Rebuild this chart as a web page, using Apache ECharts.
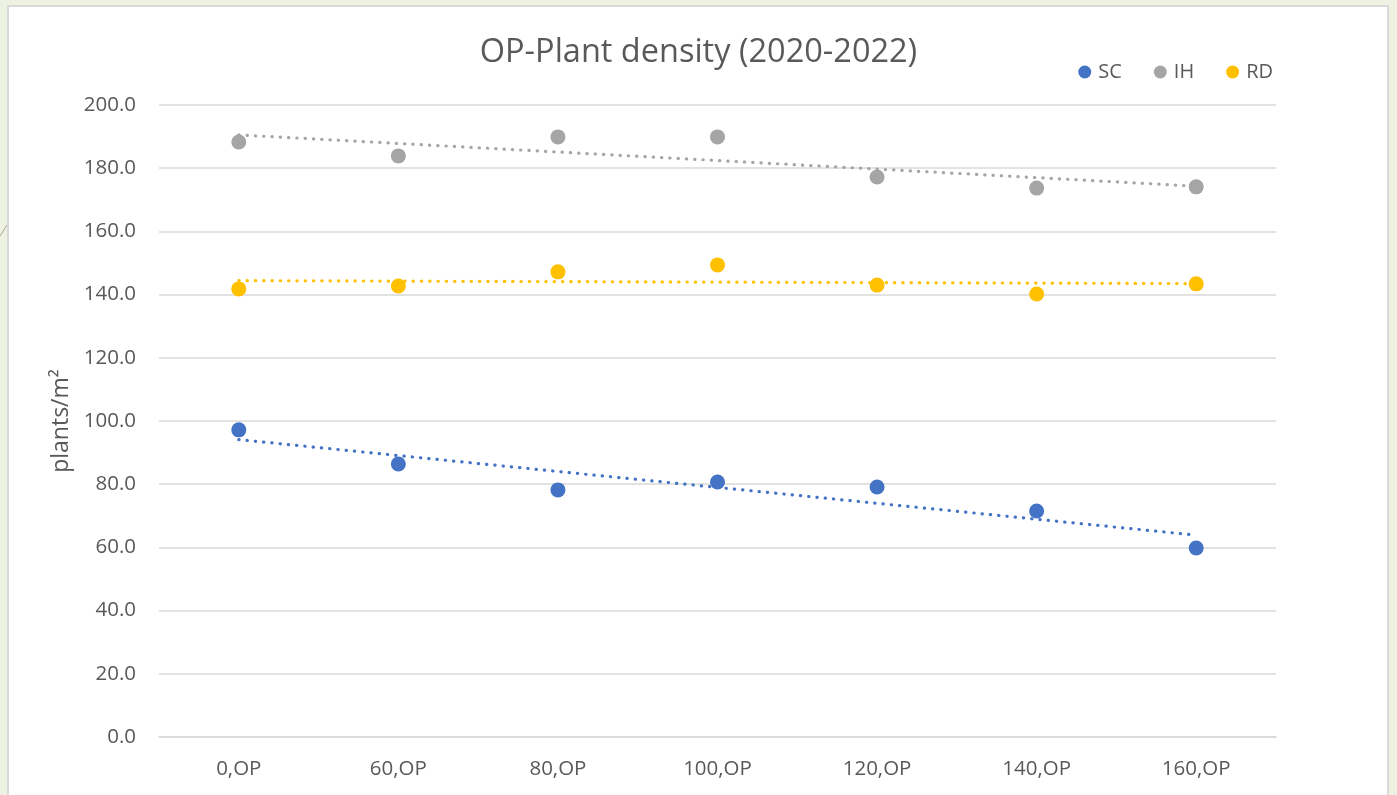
<!DOCTYPE html>
<html><head><meta charset="utf-8">
<script src="https://cdn.jsdelivr.net/npm/echarts@6/dist/echarts.min.js"></script>
<style>
html,body{margin:0;padding:0;width:1397px;height:795px;overflow:hidden;background:#eef2e2;}
#panel{position:absolute;left:7px;top:5px;width:1382px;height:800px;background:#fff;border:2px solid #d9d9d9;box-sizing:border-box;}
#chart{position:absolute;left:0;top:0;width:1397px;height:795px;}
</style></head>
<body>
<div id="panel"></div>
<div id="chart"></div>
<script>
const categories = ['0,OP','60,OP','80,OP','100,OP','120,OP','140,OP','160,OP'];
const scValues = [97.2, 86.4, 78.2, 80.7, 79.1, 71.5, 59.8];
const ihValues = [188.3, 183.9, 189.9, 189.9, 177.2, 173.7, 174.1];
const rdValues = [141.8, 142.7, 147.2, 149.4, 143.0, 140.2, 143.4];
const yTicks = [0, 20, 40, 60, 80, 100, 120, 140, 160, 180, 200];

function trend(vals){
  const n = vals.length;
  let sx=0, sy=0, sxx=0, sxy=0;
  vals.forEach((v,i)=>{const x=i+1; sx+=x; sy+=v; sxx+=x*x; sxy+=x*v;});
  const b=(n*sxy-sx*sy)/(n*sxx-sx*sx), a=(sy-b*sx)/n;
  return vals.map((v,i)=> (i===0||i===n-1) ? a+b*(i+1) : null);
}

const colors = {SC:'#4472C4', IH:'#A5A5A5', RD:'#FFC000'};
const font = 'Open Sans';
const chart = echarts.init(document.getElementById('chart'));

function scatter(name, vals){
  return {name, type:'line', data:vals, symbol:'circle', symbolSize:15,
    lineStyle:{width:0, opacity:0}, itemStyle:{color:colors[name]}, z:3};
}
function tl(name, vals){
  return {name:name+' trend', type:'line', data:trend(vals), connectNulls:true, symbol:'none',
    lineStyle:{color:colors[name], width:3.2, type:[0.3,8], cap:'round'}, z:2, silent:true};
}

chart.setOption({
  animation:false,
  textStyle:{fontFamily:font},
  title:{text:'OP-Plant density (2020-2022)', left:'center', top:31,
    textStyle:{fontFamily:font, fontSize:32.5, fontWeight:'normal', color:'#595959'}},
  legend:{data:['SC','IH','RD'], right:119, top:57, itemWidth:13, itemHeight:13, itemGap:32,
    icon:'circle', textStyle:{fontFamily:font, fontSize:20, color:'#595959', padding:[0,0,0,2]}},
  grid:{left:159, width:1117, top:105, height:632},
  xAxis:{type:'category', data:categories, boundaryGap:true,
    axisLine:{show:true, lineStyle:{color:'#d9d9d9', width:1.5}}, axisTick:{show:false},
    axisLabel:{fontFamily:font, fontSize:20.5, color:'#595959', margin:22}},
  yAxis:{type:'value', min:yTicks[0], max:yTicks[yTicks.length-1], interval:20,
    name:'plants/m²', nameLocation:'middle', nameGap:84, nameRotate:90,
    nameTextStyle:{fontFamily:font, fontSize:23, color:'#595959'},
    axisLine:{show:false}, axisTick:{show:false},
    axisLabel:{fontFamily:font, fontSize:20.5, color:'#595959', margin:23, formatter:v=>v.toFixed(1)},
    splitLine:{lineStyle:{color:'#d9d9d9', width:1.5}}},
  graphic:[{type:'line', shape:{x1:0, y1:236, x2:7, y2:225}, style:{stroke:'#a8a890', lineWidth:1}}],
  series:[tl('SC',scValues), tl('IH',ihValues), tl('RD',rdValues),
    scatter('SC',scValues), scatter('IH',ihValues), scatter('RD',rdValues)]
});
</script>
</body></html>
